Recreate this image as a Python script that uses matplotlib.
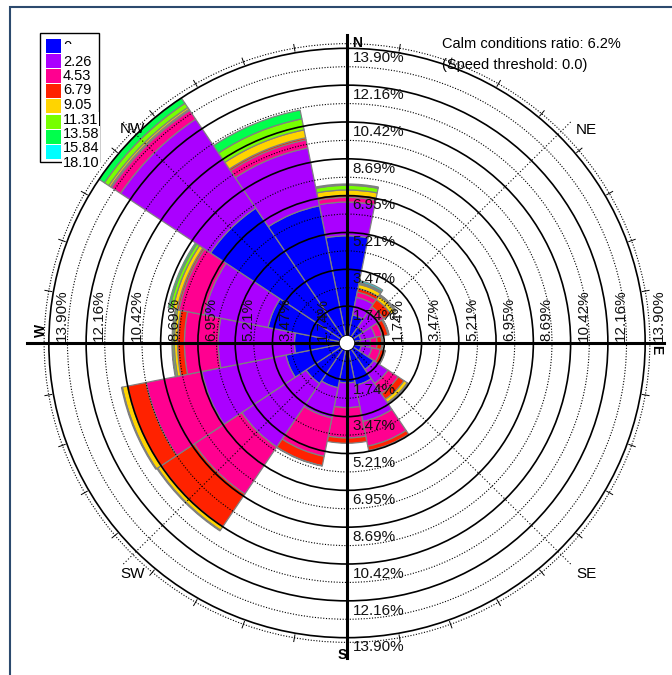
import numpy as np
import matplotlib.pyplot as plt
from matplotlib.patches import Wedge, Circle, Rectangle

plt.rcParams['font.family'] = ['Liberation Sans', 'DejaVu Sans']

# 16 sectors, clockwise from north
directions = ['N', 'NNE', 'NE', 'ENE', 'E', 'ESE', 'SE', 'SSE',
              'S', 'SSW', 'SW', 'WSW', 'W', 'WNW', 'NW', 'NNW']
bearings = np.arange(16) * 22.5

# frequency (%) per speed class and direction
spd_0 = [5.06, 1.35, 0.90, 0.66, 0.61, 0.68, 1.50, 2.03, 1.88, 2.15, 2.30, 2.90, 2.45, 3.75, 7.65, 6.60]
spd_226 = [1.59, 0.85, 0.88, 0.68, 0.48, 0.50, 0.80, 1.74, 1.17, 1.45, 3.60, 4.00, 3.55, 3.03, 5.05, 2.78]
spd_453 = [0.22, 0.25, 0.28, 0.33, 0.31, 0.40, 0.57, 1.19, 1.43, 1.85, 2.67, 2.65, 1.58, 1.21, 0.50, 0.39]
spd_679 = [0.09, 0.17, 0.40, 0.28, 0.22, 0.22, 0.33, 0.21, 0.25, 0.45, 1.85, 0.88, 0.32, 0.09, 0.06, 0.10]
spd_905 = [0.26, 0.20, 0.22, 0.03, 0.04, 0.02, 0.18, 0.00, 0.00, 0.02, 0.20, 0.25, 0.15, 0.19, 0.10, 0.38]
spd_1131 = [0.22, 0.04, 0.05, 0.02, 0.00, 0.00, 0.04, 0.00, 0.00, 0.00, 0.04, 0.04, 0.08, 0.15, 0.24, 0.53]
spd_1358 = [0.06, 0.06, 0.02, 0.00, 0.00, 0.00, 0.00, 0.00, 0.00, 0.00, 0.00, 0.00, 0.03, 0.08, 0.30, 0.42]
spd_1584 = [0.00, 0.08, 0.00, 0.00, 0.00, 0.00, 0.00, 0.00, 0.00, 0.00, 0.00, 0.00, 0.00, 0.00, 0.00, 0.00]
speed_classes = [spd_0, spd_226, spd_453, spd_679, spd_905, spd_1131, spd_1358, spd_1584]

class_colors = ['#0000ff', '#aa00ff', '#ff0090', '#ff2200', '#ffd400',
                '#77ff00', '#00ff4c', '#00ffff']
legend_labels = ['0', '2.26', '4.53', '6.79', '9.05', '11.31', '13.58', '15.84', '18.10']

ring_max = 13.90
ring_labels = ['1.74%', '3.47%', '5.21%', '6.95%', '8.69%', '10.42%', '12.16%', '13.90%']
calm_ratio = 6.2
speed_threshold = 0.0

W, H = 672, 675
cx, cy = 347, 343          # centre in pixels
sx, sy = 21.45, 21.2       # pixels per percent

fig = plt.figure(figsize=(W / 100, H / 100), dpi=100)
ax = fig.add_axes([0, 0, 1, 1])
ax.set_xlim(-cx / sx, (W - cx) / sx)
ax.set_ylim(-(H - cy) / sy, cy / sy)
ax.axis('off')

half = 360 / len(directions) / 2
for i, b in enumerate(bearings):
    inner = 0
    for k, vals in enumerate(speed_classes):
        v = vals[i]
        if v <= 0:
            continue
        outer = inner + v
        ax.add_patch(Wedge((0, 0), outer, 90 - b - half, 90 - b + half, width=v,
                           facecolor=class_colors[k], edgecolor='#808080', lw=0.9, zorder=1))
        inner = outer

# rings
step = ring_max / 8
for k in range(1, 9):
    ax.add_patch(Circle((0, 0), step * k, fill=False, ec='black', lw=1.2, zorder=3))
    ax.add_patch(Circle((0, 0), step * (k - 0.5), fill=False, ec='black', lw=0.8,
                        ls=(0, (1, 1.5)), zorder=3))
ax.add_patch(Circle((0, 0), 14.12, fill=False, ec='black', lw=0.8, ls=(0, (1, 1.5)), zorder=3))
for a in np.radians(np.arange(0, 360, 10)):
    ax.plot([13.98 * np.sin(a), 14.3 * np.sin(a)], [13.98 * np.cos(a), 14.3 * np.cos(a)],
            color='black', lw=0.7, zorder=3)

# diagonals
diag_off = {'NE': (11, -6.5), 'SE': (11, -6.5), 'SW': (7, -6.5), 'NW': (7, -6)}
for name, b in zip(['NE', 'SE', 'SW', 'NW'], [45, 135, 225, 315]):
    a = np.radians(b)
    ax.plot([0, 14.8 * np.sin(a)], [0, 14.8 * np.cos(a)], color='black', lw=0.8,
            ls=(0, (1, 2)), zorder=4)
    ax.annotate(name, (14.8 * np.sin(a), 14.8 * np.cos(a)), xytext=diag_off[name],
                textcoords='offset points', ha='center', va='center', fontsize=11, zorder=7)

# axes
ax.plot([-14.9, 14.8], [0, 0], color='black', lw=2.2, zorder=5)
ax.plot([0, 0], [-14.85, 14.55], color='black', lw=2.2, zorder=5)
ax.add_patch(Circle((0, 0), 0.36, fc='white', ec='black', lw=0.6, zorder=6))

ax.text(0.25, 14.13, 'N', fontsize=10, fontweight='bold', ha='left', va='center', zorder=7)
ax.text(-0.02, -14.72, 'S', fontsize=10, fontweight='bold', ha='right', va='center', zorder=7)
ax.text(-14.27, 0.61, 'W', fontsize=10, fontweight='bold', rotation=90, ha='center', va='center', zorder=7)
ax.text(14.42, -0.3, 'E', fontsize=10, fontweight='bold', rotation=270, ha='center', va='center', zorder=7)

for k, lab in enumerate(ring_labels, start=1):
    r = step * k
    for xy in [(0, r), (0, -r)]:
        ax.annotate(lab, xy, xytext=(4, -2), textcoords='offset points',
                    ha='left', va='top', fontsize=11, color='#111111', zorder=7)
    for xy in [(r, 0), (-r, 0)]:
        ax.annotate(lab, xy, xytext=(4.5, 1.5), textcoords='offset points', rotation=90,
                    ha='left', va='bottom', fontsize=11, color='#111111', zorder=7)

# calm text
fig.text(442 / W, 1 - 43.5 / H, 'Calm conditions ratio: %.1f%%' % calm_ratio,
         ha='left', va='center', fontsize=10.5)
fig.text(442 / W, 1 - 64.5 / H, '(Speed threshold: %.1f)' % speed_threshold,
         ha='left', va='center', fontsize=10.5)

# legend
fig.patches.append(Rectangle((40 / W, 1 - 162 / H), 59 / W, 129 / H, fill=False, ec='black',
                             lw=1, transform=fig.transFigure))
for i, c in enumerate(class_colors):
    top = 39 + 15.1 * i
    fig.patches.append(Rectangle((46 / W, 1 - (top + 14) / H), 15 / W, 14 / H, fc=c, ec='none',
                                 transform=fig.transFigure))
for i, lab in enumerate(legend_labels):
    y = 47 + 14.5 * i
    t = fig.text(63 / W, 1 - y / H, lab, ha='left', va='center', fontsize=10.5,
                 bbox=dict(boxstyle='square,pad=0.05', fc='white', ec='none'))
    if i == 0:
        clip = Rectangle((0, 1 - 43.5 / H), 1, 43.5 / H, transform=fig.transFigure)
        t.set_clip_path(clip)

# outer frame
fig.patches.append(Rectangle((9.5 / W, -0.1), 1.2, 1.1 - 6.5 / H, fill=False, ec='#2c4a6e',
                             lw=1.5, transform=fig.transFigure))

fig.savefig('out.png', dpi=100)
